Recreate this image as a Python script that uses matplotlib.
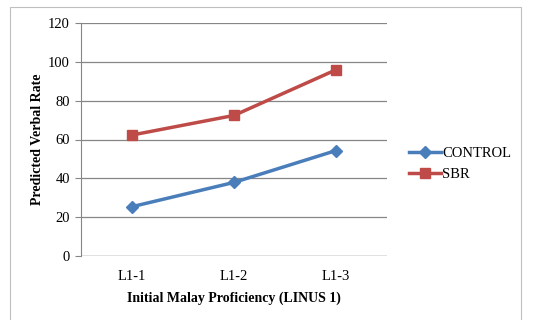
import matplotlib
matplotlib.use("Agg")
import matplotlib.pyplot as plt
from matplotlib.patches import Rectangle

categories = ["L1-1", "L1-2", "L1-3"]
control = [25.4, 37.9, 54.3]
sbr = [62.3, 72.4, 95.9]
yticks = [0, 20, 40, 60, 80, 100, 120]

plt.rcParams['font.family'] = ['Liberation Serif', 'DejaVu Serif']

fig = plt.figure(figsize=(5.34, 3.2), dpi=100)
W, H = 534, 320
ax = fig.add_axes([81 / W, 1 - 256 / H, (387 - 81) / W, (256 - 23) / H])

# outer border
fig.patches.append(Rectangle((10 / W, -0.05), (521 - 10) / W, 1 - 7 / H + 0.05,
                             transform=fig.transFigure, fill=False,
                             edgecolor='#bfbfbf', linewidth=0.8))

x = list(range(len(categories)))
ax.plot(x, control, color='#4A7EBB', linewidth=2.5, marker='D', markersize=6,
        label='CONTROL')
ax.plot(x, sbr, color='#BE4B48', linewidth=2.5, marker='s', markersize=7,
        label='SBR')

ax.set_xlim(-0.5, 2.5)
ax.set_ylim(0, 120)
ax.set_yticks(yticks)
ax.set_xticks(x)
ax.set_xticklabels(categories)
ax.grid(axis='y', color='#868686', linewidth=0.9)
ax.set_axisbelow(True)
for s in ['top', 'right', 'bottom']:
    ax.spines[s].set_visible(False)
ax.spines['left'].set_color('#868686')
ax.axhline(0, color='#868686', linewidth=0.9, zorder=0)
ax.tick_params(axis='y', length=4, color='#868686', labelsize=10.5, pad=4)
ax.tick_params(axis='x', length=0, labelsize=10.5, pad=10)

ax.set_xlabel('Initial Malay Proficiency (LINUS 1)', fontsize=10, fontweight='bold',
              labelpad=6)
ax.set_ylabel('Predicted Verbal Rate', fontsize=10, fontweight='bold', labelpad=3)

fig.legend(loc='center left', bbox_to_anchor=(403 / W, 1 - 164 / H), frameon=False,
           fontsize=10.5, handlelength=2.2, handletextpad=0.1, labelspacing=0.55,
           borderaxespad=0)

fig.savefig('out.png', dpi=100)
